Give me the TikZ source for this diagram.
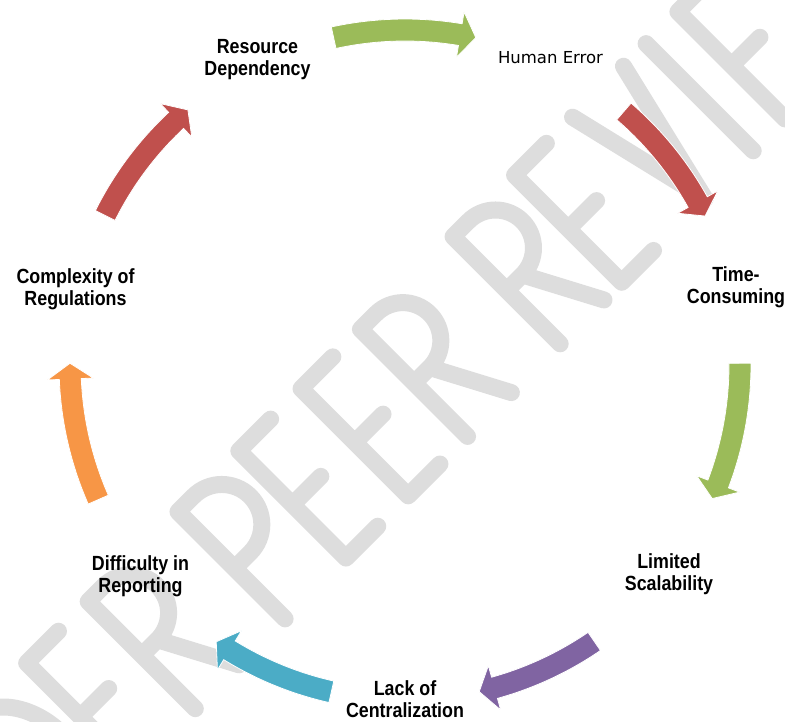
\documentclass[tikz,border=0pt]{standalone}
\usepackage{fontspec}
\newfontfamily\lblfont[FakeStretch=0.87]{Liberation Sans}
\newfontfamily\hefont{DejaVu Sans}
\definecolor{agreen}{HTML}{9BBB59}
\definecolor{ared}{HTML}{C0504D}
\definecolor{apurple}{HTML}{8064A2}
\definecolor{acyan}{HTML}{4BACC6}
\definecolor{aorange}{HTML}{F79646}
\definecolor{wmgray}{RGB}{221,221,221}
\tikzset{
  wm/.style={draw=wmgray, line width=17pt, line cap=round, line join=round},
  lbl/.style={font=\lblfont\bfseries\fontsize{20.5}{22}\selectfont, align=center, inner sep=0pt, anchor=north},
  carrow/.style={draw=white, line width=0.8pt},
}
\newcommand\wmLE[1]{\draw[wm,shift={(#1,0)}] (45,160)--(0,160)--(0,8.5)--(45,8.5) (0,84)--(40,84);}
\newcommand\wmLR[1]{\draw[wm,shift={(#1,0)}] (0,8.5)--(0,160)--(22,160) arc[start angle=90,end angle=-90,radius=38]--(0,84) (22,84)--(62,8.5);}
\newcommand\wmLP[1]{\draw[wm,shift={(#1,0)}] (0,8.5)--(0,160)--(22,160) arc[start angle=90,end angle=-90,radius=40]--(0,80);}
\newcommand\wmLD[1]{\draw[wm,shift={(#1,0)}] (0,8.5)--(0,160)--(15,160) arc[start angle=90,end angle=-90,x radius=55,y radius=75.75]--cycle;}
\newcommand\wmLV[1]{\draw[wm,shift={(#1,0)}] (0,160)--(36,8.5)--(72,160);}
\newcommand\wmLI[1]{\draw[wm,shift={(#1,0)}] (0,8.5)--(0,160);}
\newcommand\wmLW[1]{\draw[wm,shift={(#1,0)}] (0,160)--(28,8.5)--(60,150)--(92,8.5)--(120,160);}
\begin{document}
\begin{tikzpicture}[x=1pt,y=1pt]
\fill[white] (0,0) rectangle (785,-722);
\useasboundingbox (0,0) rectangle (785,-722);
% watermark
\begin{scope}
  \clip (0,0) rectangle (785,-722);
  \begin{scope}[shift={(458,-458)},rotate=45]
    \wmLD{-545}
    \wmLE{-450}
    \wmLR{-363}
    \wmLP{-236}
    \wmLE{-150}
    \wmLE{-62}
    \wmLR{22}
    \wmLR{153}
    \wmLE{240}
    \wmLV{322}
    \wmLI{426}
    \wmLE{471}
    \wmLW{558}
  \end{scope}
\end{scope}
% cycle arrows
\coordinate (cc) at (405,-365);
\foreach \ta/\tb/\col in {102.3/77.8/agreen, 49.2/26.4/ared, 0.3/-23.5/agreen, -55.6/-77.2/apurple, -102.7/-124.3/acyan, -156.3/-180.3/aorange, 153.5/130.4/ared}{
  \pgfmathsetmacro\hb{\tb+2.7}
  \filldraw[carrow, fill=\col] ([shift={(cc)}]\ta:346) arc[start angle=\ta, end angle=\hb, radius=346]
    -- ([shift={(cc)}]\hb:358) -- ([shift={(cc)}]\tb:335) -- ([shift={(cc)}]\hb:312)
    -- ([shift={(cc)}]\hb:324) arc[start angle=\hb, end angle=\ta, radius=324] -- cycle;
}
% labels
\node[lbl] (rd) at (257.5,-39.3) {Resource\\Dependency};
\node[font=\hefont\fontsize{16.5}{20}\selectfont, anchor=base, inner sep=0pt] (he) at (550.5,-64) {Human Error};
\node[lbl] (tc) at (736,-266.3) {Time-\\Consuming};
\node[lbl] (ls) at (669,-553.6) {Limited\\Scalability};
\node[lbl] (lc) at (405,-680.3) {Lack of\\Centralization};
\node[lbl] (dr) at (140.5,-555.3) {Difficulty in\\Reporting};
\node[lbl] (cr) at (75.5,-268) {Complexity of\\Regulations};
\end{tikzpicture}
\end{document}
